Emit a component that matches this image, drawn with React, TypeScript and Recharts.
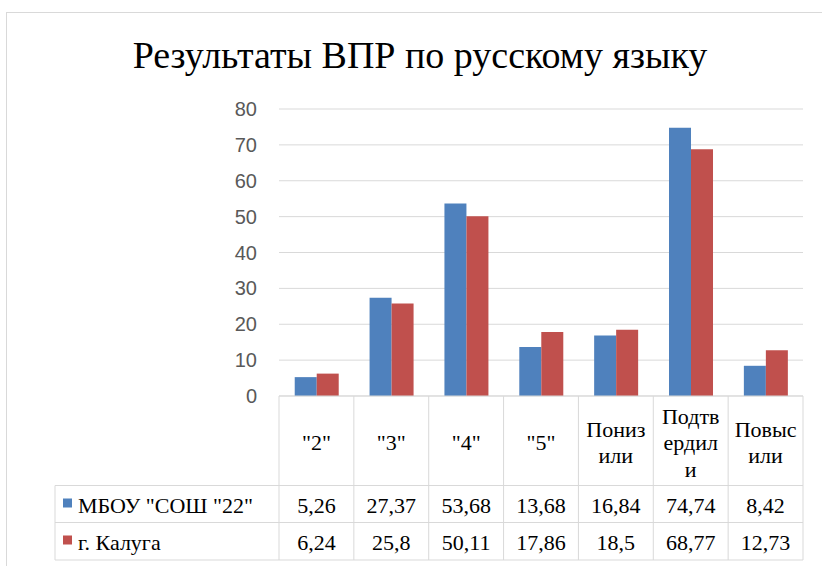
import React from "react";
import { Bar, BarChart, CartesianGrid, XAxis, YAxis } from "recharts";

const categories = ['"2"', '"3"', '"4"', '"5"', "Понизили", "Подтвердили", "Повысили"];
const categoryLines = [['"2"'], ['"3"'], ['"4"'], ['"5"'], ["Пониз", "или"], ["Подтв", "ердил", "и"], ["Повыс", "или"]];
const seriesNames = ['МБОУ "СОШ "22"', "г. Калуга"];
const schoolValues = [5.26, 27.37, 53.68, 13.68, 16.84, 74.74, 8.42];
const cityValues = [6.24, 25.8, 50.11, 17.86, 18.5, 68.77, 12.73];
const seriesValues = [schoolValues, cityValues];
const seriesColors = ["#4F81BD", "#C0504D"];
const yTicks = [0, 10, 20, 30, 40, 50, 60, 70, 80];

const data = categories.map((name, i) => ({ name, school: schoolValues[i], city: cityValues[i] }));

const W = 822;
const H = 566;
const M = { top: 109, right: 19, bottom: 6, left: 219 };
const Y_AXIS_W = 60;
const X_AXIS_H = 164;
const cellW = (W - M.left - M.right - Y_AXIS_W) / categories.length;
const grid = "#d9d9d9";

const fmt = (v: number) => String(v).replace(".", ",");

function TableTick(props: any) {
  const { x, y, index } = props;
  const row1 = y + 89.5;
  const row2 = y + 126.5;
  const bottom = y + 164;
  const lines = categoryLines[index];
  const lh = 26.5;
  const firstBase = y + 54 - ((lines.length - 1) * lh) / 2;
  const tableLeft = 55;
  const tableRight = x + cellW * (categories.length - index - 0.5);
  return (
    <g>
      <line x1={x - cellW / 2} x2={x - cellW / 2} y1={y} y2={bottom} stroke={grid} />
      {index === categories.length - 1 && (
        <line x1={x + cellW / 2} x2={x + cellW / 2} y1={y} y2={bottom} stroke={grid} />
      )}
      {lines.map((t, k) => (
        <text key={k} x={x} y={firstBase + k * lh} textAnchor="middle" fill="#000" fontFamily="Liberation Serif" fontSize={22}>
          {t}
        </text>
      ))}
      {seriesValues.map((vals, s) => (
        <text key={s} x={x} y={(s === 0 ? row1 : row2) + 27} textAnchor="middle" fill="#000" fontFamily="Liberation Serif" fontSize={22}>
          {fmt(vals[index])}
        </text>
      ))}
      {index === 0 && (
        <g>
          <line x1={tableLeft} x2={tableRight} y1={row1} y2={row1} stroke={grid} />
          <line x1={tableLeft} x2={tableRight} y1={row2} y2={row2} stroke={grid} />
          <line x1={tableLeft} x2={tableRight} y1={bottom} y2={bottom} stroke={grid} />
          <line x1={tableLeft} x2={tableLeft} y1={row1} y2={bottom} stroke={grid} />
          {seriesNames.map((n, s) => (
            <g key={n}>
              <rect x={63} y={(s === 0 ? row1 : row2) + 13} width={9} height={9} fill={seriesColors[s]} />
              <text x={78} y={(s === 0 ? row1 : row2) + 27} fill="#000" fontFamily="Liberation Serif" fontSize={22}>
                {n}
              </text>
            </g>
          ))}
        </g>
      )}
    </g>
  );
}

export default function App() {
  return (
    <div style={{ position: "absolute", left: 0, top: 0, width: W, height: H, overflow: "hidden", background: "#fff", fontFamily: '"Liberation Serif", serif' }}>
      <div
        style={{
          position: "absolute",
          left: 6,
          top: 12,
          width: W + 20,
          height: H + 20,
          border: `1px solid ${grid}`,
          boxSizing: "border-box",
        }}
      />
      <div
        style={{
          position: "absolute",
          left: 0,
          top: 33,
          width: 840,
          textAlign: "center",
          fontFamily: '"Liberation Serif", serif',
          fontSize: 38,
          color: "#000",
          lineHeight: "44px",
        }}
      >
        Результаты ВПР по русскому языку
      </div>
      <div style={{ position: "absolute", left: 0, top: 0 }}>
        <BarChart width={W} height={H} data={data} margin={M} barCategoryGap="21%" barGap={0}>
          <CartesianGrid vertical={false} stroke={grid} strokeWidth={1} />
          <XAxis
            dataKey="name"
            height={X_AXIS_H}
            interval={0}
            tickLine={false}
            tickSize={0}
            tickMargin={0}
            axisLine={{ stroke: grid }}
            tick={(p: any) => <TableTick {...p} />}
          />
          <YAxis
            width={Y_AXIS_W}
            domain={[0, 80]}
            ticks={yTicks}
            axisLine={false}
            tickLine={false}
            tickSize={0}
            tickMargin={22}
            tick={{ fill: "#595959", fontSize: 20, fontFamily: "Liberation Sans" }}
          />
          <Bar dataKey="school" name={seriesNames[0]} fill={seriesColors[0]} isAnimationActive={false} />
          <Bar dataKey="city" name={seriesNames[1]} fill={seriesColors[1]} isAnimationActive={false} />
        </BarChart>
      </div>
    </div>
  );
}
